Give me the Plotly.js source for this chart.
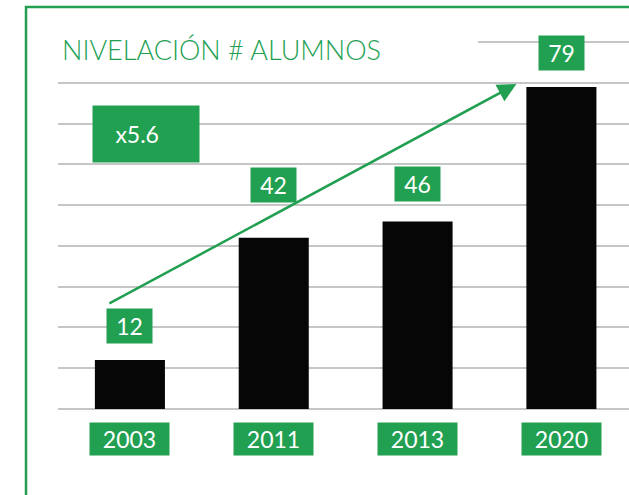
<!DOCTYPE html>
<html>
<head>
<meta charset="utf-8">
<script src="https://cdn.plot.ly/plotly-3.0.1.min.js"></script>
<style>html,body{margin:0;padding:0;background:#fff;}#chart{width:629px;height:495px;}</style>
</head>
<body>
<div id="chart"></div>
<script>
// Data
const years = ['2003', '2011', '2013', '2020'];
const alumnos = [12, 42, 46, 79];
const titleText = 'NIVELACIÓN # ALUMNOS';
const growthText = 'x5.6';

// Styling / layout constants
const GREEN = '#22a052';
const labelShift = [34, 53, 37, 34];
const font = 'Lato, "Open Sans", sans-serif';

const xIdx = years.map((_, i) => i);

const trace = {
  type: 'bar',
  x: xIdx,
  y: alumnos,
  marker: {color: '#060606', line: {width: 0}},
  hoverinfo: 'none'
};

const annotations = [];
// value labels
alumnos.forEach((v, i) => {
  annotations.push({
    x: i, y: v, xref: 'x', yref: 'y', yshift: labelShift[i],
    text: String(v), showarrow: false,
    bgcolor: GREEN, width: 45, height: 34, borderpad: 0,
    font: {family: font, size: 23, color: '#ffffff'}
  });
});
// year labels
years.forEach((yr, i) => {
  annotations.push({
    x: i, y: 0, xref: 'x', yref: 'y', yshift: -30,
    text: yr, showarrow: false,
    bgcolor: GREEN, width: 79, height: 32, borderpad: 0,
    font: {family: font, size: 23, color: '#ffffff'}
  });
});
// growth arrow
annotations.push({
  x: 2.6875, y: 79.7, xref: 'x', yref: 'y',
  ax: -0.153, ay: 25.7, axref: 'x', ayref: 'y',
  text: '', showarrow: true, arrowhead: 2, arrowsize: 1.5, arrowwidth: 2.5,
  arrowcolor: GREEN, standoff: 0, startstandoff: 0
});
// growth box
annotations.push({
  x: 0.111, y: 67.4, xref: 'x', yref: 'y',
  text: growthText + '\u00a0\u00a0\u00a0', showarrow: false,
  bgcolor: GREEN, width: 106, height: 56, borderpad: 0,
  font: {family: font, size: 23, color: '#ffffff'}
});
// title
annotations.push({
  x: 0.003, y: 1.0, xref: 'paper', yref: 'paper', xanchor: 'left', yanchor: 'middle',
  yshift: -9,
  text: titleText, showarrow: false,
  font: {family: font, size: 27, color: GREEN, weight: 300}
});

const layout = {
  width: 629, height: 495,
  margin: {l: 58, r: 0, t: 40, b: 86, pad: 0},
  paper_bgcolor: '#ffffff', plot_bgcolor: '#ffffff',
  bargap: 0.513,
  showlegend: false,
  xaxis: {
    range: [-0.5, 3.47], showgrid: false, zeroline: false,
    showticklabels: false, ticks: '', showline: false, fixedrange: true
  },
  yaxis: {
    range: [0, 90.5], dtick: 10, tick0: 0, showgrid: true,
    gridcolor: '#c6c6c6', gridwidth: 2,
    zeroline: true, zerolinecolor: '#c6c6c6', zerolinewidth: 2,
    showticklabels: false, ticks: '', showline: false, fixedrange: true
  },
  shapes: [
    {type: 'rect', xref: 'paper', yref: 'paper', layer: 'above',
     x0: 0, x1: 0.7356, y0: 0.913, y1: 1.03,
     fillcolor: '#ffffff', line: {width: 0}},
    {type: 'rect', xref: 'paper', yref: 'paper', layer: 'above',
     x0: -0.056, x1: 1.08, y0: -0.3, y1: 1.0894,
     fillcolor: 'rgba(0,0,0,0)', line: {color: GREEN, width: 2.5}}
  ],
  annotations: annotations
};

Plotly.newPlot('chart', [trace], layout, {staticPlot: true, displayModeBar: false});
</script>
</body>
</html>
